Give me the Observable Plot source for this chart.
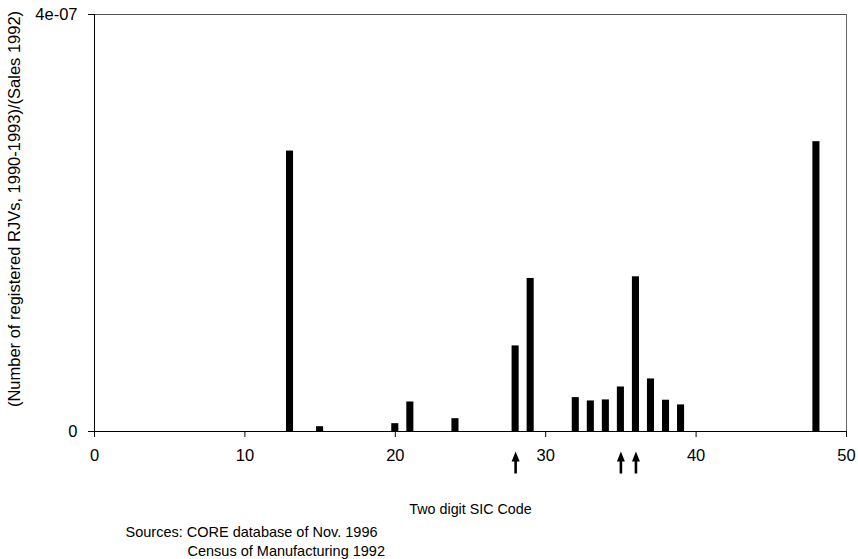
<!DOCTYPE html>
<html><head><meta charset="utf-8">
<script src="https://cdn.jsdelivr.net/npm/d3@7"></script>
<script src="https://cdn.jsdelivr.net/npm/@observablehq/plot@0.6"></script>
<style>body{margin:0;background:#fff}</style>
</head><body><div id="chart"></div><script>
const sicCodes = [13, 15, 20, 21, 24, 28, 29, 32, 33, 34, 35, 36, 37, 38, 39, 48];
const ratios = [2.69e-7, 0.46e-8, 0.75e-8, 2.83e-8, 1.23e-8, 8.21e-8, 1.468e-7, 3.25e-8, 2.93e-8, 3.03e-8, 4.27e-8, 1.484e-7, 5.04e-8, 3.0e-8, 2.55e-8, 2.78e-7];
const arrowCodes = [28, 35, 36];
const xTicks = [0, 10, 20, 30, 40, 50];
const yTicks = [0, 4e-7];
const yTickLabels = ["0", "4e-07"];
const xLabel = "Two digit SIC Code";
const yLabel = "(Number of registered RJVs, 1990-1993)/(Sales 1992)";
const captionLines = ["Sources: CORE database of Nov. 1996", "Census of Manufacturing 1992"];

const data = sicCodes.map((sic, i) => ({sic, value: ratios[i]}));
const halfWidth = 0.235;

const arrowShape = {
  draw(context, l) {
    const hw = 4, hl = 10, sw = 1.3;
    context.moveTo(-sw, 0);
    context.lineTo(-sw, -l + hl);
    context.lineTo(-hw, -l + hl);
    context.lineTo(0, -l);
    context.lineTo(hw, -l + hl);
    context.lineTo(sw, -l + hl);
    context.lineTo(sw, 0);
    context.closePath();
  }
};

const chart = Plot.plot({
  width: 858,
  height: 559,
  marginTop: 14,
  marginLeft: 94,
  marginRight: 12,
  marginBottom: 128,
  style: {fontFamily: "'Liberation Sans', Arial, sans-serif", fontSize: "14px", background: "#fff", color: "black", overflow: "visible"},
  x: {domain: [xTicks[0], xTicks[xTicks.length - 1]]},
  y: {domain: [yTicks[0], yTicks[yTicks.length - 1]]},
  marks: [
    Plot.ruleY([yTicks[yTicks.length - 1]], {stroke: "#555"}),
    Plot.ruleX([xTicks[xTicks.length - 1]], {stroke: "#666"}),
    Plot.rectY(data, {x1: d => d.sic - halfWidth, x2: d => d.sic + halfWidth, y1: 0, y2: "value", fill: "black"}),
    Plot.ruleX([xTicks[0]], {stroke: "black"}),
    Plot.ruleY([yTicks[0]], {stroke: "black"}),
    Plot.axisX({ticks: xTicks, tickSize: 6, tickPadding: 12, label: null, tickFormat: d => String(d), fontSize: 16.5}),
    Plot.axisY({ticks: yTicks, tickSize: 6, tickPadding: 11, label: null, tickFormat: d => yTickLabels[yTicks.indexOf(d)], fontSize: 16.5}),
    Plot.vector(arrowCodes, {x: d => d, frameAnchor: "bottom", dy: 42, length: 22, anchor: "start", rotate: 0, shape: arrowShape, fill: "black", stroke: "none"}),
    Plot.text([xLabel], {text: d => d, frameAnchor: "bottom", lineAnchor: "middle", textAnchor: "middle", dy: 78, fontSize: 14.3}),
    Plot.text([yLabel], {text: d => d, frameAnchor: "left", lineAnchor: "middle", textAnchor: "middle", rotate: -90, dx: -80, dy: -14, fontSize: 16.5}),
    Plot.text([captionLines[0]], {text: d => d, frameAnchor: "bottom-left", lineAnchor: "middle", textAnchor: "start", dx: 31, dy: 101, fontSize: 14.5}),
    Plot.text([captionLines[1]], {text: d => d, frameAnchor: "bottom-left", lineAnchor: "middle", textAnchor: "start", dx: 93, dy: 120, fontSize: 14.5})
  ]
});
document.getElementById("chart").appendChild(chart);
</script></body></html>
